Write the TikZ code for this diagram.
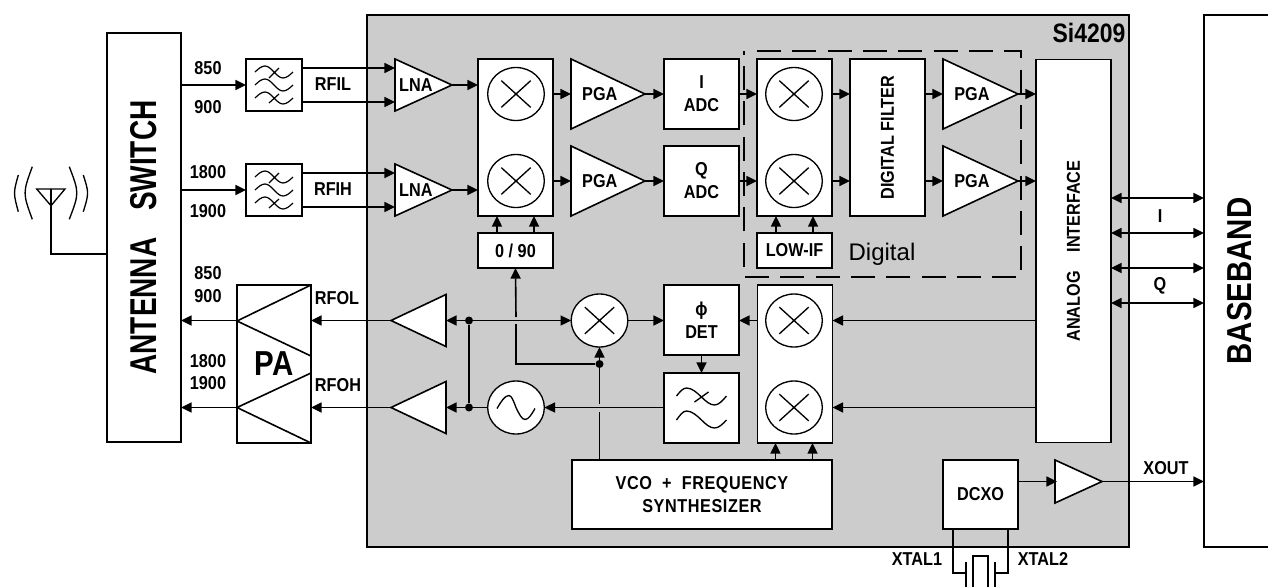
\documentclass[tikz,border=0pt]{standalone}
\usepackage{fontspec}
\setmainfont{Liberation Sans}
\newfontfamily\lblfam[FakeStretch=0.87]{Liberation Sans}
\newfontfamily\chipfam[FakeStretch=0.86]{Liberation Sans}
\newfontfamily\bigfam[FakeStretch=0.75]{Liberation Sans}
\newfontfamily\basefam[FakeStretch=0.85]{Liberation Sans}
\usetikzlibrary{arrows.meta,shapes.geometric}
\definecolor{chipgray}{rgb}{0.8,0.8,0.8}
\tikzset{
	lbl/.style={font=\lblfam\fontsize{14}{17.25}\selectfont\bfseries,align=center,inner sep=0pt,outer sep=0pt},
	blk/.style 2 args={rectangle,draw,fill=white,line width=1.2pt,inner sep=0pt,outer sep=0pt,
		minimum width=#1*0.75pt,minimum height=#2*0.75pt,lbl},
	amp/.style 2 args={isosceles triangle,isosceles triangle stretches,draw,fill=white,line width=1.2pt,
		inner sep=0pt,outer sep=0pt,minimum height=#1*0.75pt,minimum width=#2*0.75pt,lbl},
	mix/.style={ellipse,draw,fill=white,line width=1pt,inner sep=0pt,outer sep=0pt,minimum width=42.5pt,minimum height=39.75pt,
		path picture={\draw[line width=1pt] (path picture bounding box.center) +(-11pt,-10pt) -- +(11pt,10pt) +(-11pt,10pt) -- +(11pt,-10pt);}},
	osc/.style={mix,path picture={\draw[shift={(path picture bounding box.center)},x=.75pt,y=-.75pt,line width=1pt]
		(-19,1) sin (-7,-12) cos (0,0) sin (9,12) cos (19,1);}},
	filsmall/.style={blk={56}{52},path picture={\draw[shift={(path picture bounding box.center)},x=.75pt,y=-.75pt,line width=.9pt]
		(-19,-13) sin (-9,-19) cos (0,-13) sin (9,-7) cos (19,-13)
		(-19,0) sin (-9,-6) cos (0,0) sin (9,6) cos (19,0)
		(-19,13) sin (-9,7) cos (0,13) sin (9,19) cos (19,13)
		(5,-17) -- (-5,-7) (5,9) -- (-5,18);}},
	filbig/.style={blk={75}{70},path picture={\draw[shift={(path picture bounding box.center)},x=.75pt,y=-.75pt,line width=1pt]
		(-25,-12) sin (-15,-20) cos (0,-11) sin (13,-3) cos (25,-12)
		(-25,12) sin (-15,3) cos (0,12) sin (13,20) cos (25,12)
		(7,-16) -- (-7,-6);}},
	dot/.style={circle,fill=black,inner sep=0pt,minimum size=6pt},
	arr/.style={line width=1.2pt,-{Triangle[length=8pt,width=7.5pt]}},
	darr/.style={line width=1.2pt,{Triangle[length=8pt,width=7.5pt]}-{Triangle[length=8pt,width=7.5pt]}},
	wire/.style={line width=1.2pt}
}
\begin{document}
\begin{tikzpicture}[x=0.75pt,y=0.75pt,yscale=-1,xscale=1]
	\useasboundingbox (0,0) rectangle (1268,586);
	% blocks outside the chip
	\node[blk={762}{532},fill=chipgray] (chip) at (748,281) {};
	\node[blk={74}{409}] (antsw) at (144,237.5) {\rotatebox{90}{\bigfam\fontsize{28}{28}\selectfont\bfseries ANTENNA\hspace{20pt}SWITCH}};
	\node[blk={150}{532}] (base) at (1279,281) {};
	\node[lbl,font=\basefam\fontsize{26}{26}\selectfont\bfseries] (basetxt) at (1240,281) {\rotatebox{90}{BASEBAND}};
	\node[filsmall] (rfil) at (274,85) {};
	\node[filsmall] (rfih) at (274,190) {};
	\node[blk={74}{158}] (pa) at (274,364) {};
	% receive path
	\node[amp={57}{52},anchor=lower side] (lnal) at (395,85) {\hspace*{1.5pt}LNA};
	\node[amp={57}{52},anchor=lower side] (lnah) at (395,190) {\hspace*{1.5pt}LNA};
	\node[blk={75}{157}] (cola) at (515.5,137.5) {};
	\node[mix] (mixa) at (516,94) {};
	\node[mix] (mixb) at (516,181) {};
	\node[blk={75}{35}] (phase) at (515.5,250.5) {0 / 90};
	\node[amp={74}{70},anchor=lower side] (pgaa) at (571,94) {\hspace*{4pt}PGA};
	\node[amp={74}{70},anchor=lower side] (pgab) at (571,181) {\hspace*{4pt}PGA};
	\node[blk={75}{70}] (adci) at (701.5,94) {I\\ADC};
	\node[blk={75}{70}] (adcq) at (701.5,181) {Q\\ADC};
	\node[blk={75}{157}] (colb) at (794.5,137.5) {};
	\node[mix] (mixc) at (794,94) {};
	\node[mix] (mixd) at (794,181) {};
	\node[blk={75}{35}] (lowif) at (794.5,250.5) {LOW-IF};
	\node[blk={75}{157}] (dfil) at (887.5,137.5) {\rotatebox{90}{DIGITAL FILTER}};
	\node[amp={75}{70},anchor=lower side] (pgac) at (943,94) {\hspace*{4pt}PGA};
	\node[amp={75}{70},anchor=lower side] (pgad) at (943,181) {\hspace*{4pt}PGA};
	\node[blk={75}{383}] (iface) at (1073.5,251) {\rotatebox{90}{ANALOG\hspace{14pt}INTERFACE}};
	% transmit path
	\node[amp={55}{52},anchor=lower side,shape border rotate=180] (bufl) at (446,320.5) {};
	\node[amp={55}{52},anchor=lower side,shape border rotate=180] (bufh) at (446,407.5) {};
	\node[dot] (jnl) at (469,320.5) {};
	\node[dot] (jnh) at (469,407.5) {};
	\node[mix] (mixl) at (599.5,320.5) {};
	\node[osc] (vosc) at (516,407.5) {};
	\node[blk={75}{70}] (det) at (701.5,320) {ϕ\\DET};
	\node[filbig] (lpf) at (701.5,408) {};
	\node[blk={75}{158}] (colc) at (795,364) {};
	\node[mix] (mixe) at (794,320.5) {};
	\node[mix] (mixf) at (794,407.5) {};
	\node[blk={260}{69},font=\lblfam\fontsize{14}{17.25}\selectfont\bfseries\addfontfeature{LetterSpace=3}] (vco) at (702,494.5) {VCO\ \ +\ \ FREQUENCY\\SYNTHESIZER};
	\node[dot] (tap) at (599.5,364) {};
	\node[blk={75}{69}] (dcxo) at (980.5,494.5) {DCXO};
	\node[amp={47}{43},anchor=lower side] (bufx) at (1055,481.5) {};
	\node[blk={15}{38}] (xtal) at (980.5,575) {};
	% antenna
	\coordinate (ant) at (51,189);
	\draw[line width=1pt] (36.7,189) -- (65,189) -- (51,205.7) -- cycle;
	\draw[wire] (ant) -- (51,254) -- (antsw.west |- 51,254);
	\draw[line width=1pt] (32.3,166.7) .. controls (22.7,193) .. (32.3,219.3);
	\draw[line width=1pt] (18.3,175) .. controls (13.3,193) .. (18.3,211.7);
	\draw[line width=1pt] (69.3,166.7) .. controls (79.3,193) .. (69.3,219.3);
	\draw[line width=1pt] (83.3,175) .. controls (89,193) .. (83.3,211.7);
	% pa triangles
	\draw[wire] (237,321) -- (311,285) (237,321) -- (311,356);
	\draw[wire] (237,407.5) -- (311,373) (237,407.5) -- (311,443);
	% rx connectors
	\draw[arr] (antsw.east |- rfil) -- (rfil);
	\draw[arr] (antsw.east |- rfih) -- (rfih);
	\draw[arr] ([yshift=12.75pt]rfil.east) -- ([yshift=12.75pt]rfil.east -| lnal.lower side);
	\draw[arr] ([yshift=-12.75pt]rfil.east) -- ([yshift=-12.75pt]rfil.east -| lnal.lower side);
	\draw[arr] ([yshift=12.75pt]rfih.east) -- ([yshift=12.75pt]rfih.east -| lnah.lower side);
	\draw[arr] ([yshift=-12.75pt]rfih.east) -- ([yshift=-12.75pt]rfih.east -| lnah.lower side);
	\draw[arr] (lnal.apex) -- (lnal.apex -| cola.west);
	\draw[arr] (lnah.apex) -- (lnah.apex -| cola.west);
	\draw[arr] (cola.east |- pgaa.apex) -- (pgaa.lower side);
	\draw[arr] (cola.east |- pgab.apex) -- (pgab.lower side);
	\draw[arr] (pgaa.apex) -- (adci.west);
	\draw[arr] (pgab.apex) -- (adcq.west);
	\draw[arr] (adci.east) -- (adci.east -| colb.west);
	\draw[arr] (adcq.east) -- (adcq.east -| colb.west);
	\draw[arr] (colb.east |- mixc) -- (dfil.west |- mixc);
	\draw[arr] (colb.east |- mixd) -- (dfil.west |- mixd);
	\draw[arr] (dfil.east |- pgac.apex) -- (pgac.lower side);
	\draw[arr] (dfil.east |- pgad.apex) -- (pgad.lower side);
	\draw[arr] (pgac.apex) -- (pgac.apex -| iface.west);
	\draw[arr] (pgad.apex) -- (pgad.apex -| iface.west);
	\draw[arr] ([xshift=-13.9pt]phase.north) -- ([xshift=-13.9pt]phase.north |- cola.south);
	\draw[arr] ([xshift=13.9pt]phase.north) -- ([xshift=13.9pt]phase.north |- cola.south);
	\draw[arr] ([xshift=-13.9pt]lowif.north) -- ([xshift=-13.9pt]lowif.north |- colb.south);
	\draw[arr] ([xshift=13.9pt]lowif.north) -- ([xshift=13.9pt]lowif.north |- colb.south);
	% tx connectors
	\draw[arr] (pa.west |- bufl.apex) -- (antsw.east |- bufl.apex);
	\draw[arr] (pa.west |- bufh.apex) -- (antsw.east |- bufh.apex);
	\draw[arr] (bufl.apex) -- (pa.east |- bufl.apex);
	\draw[arr] (bufh.apex) -- (pa.east |- bufh.apex);
	\draw[arr] (jnl) -- (bufl.lower side);
	\draw[arr] (jnh) -- (bufh.lower side);
	\draw[wire] (jnl) -- (jnh);
	\draw[wire] (vosc) -- (jnh);
	\draw[arr] (jnl) -- (mixl.west);
	\draw[arr] (mixl.east) -- (det.west |- mixl);
	\draw[arr] (colc.west |- mixe) -- (det.east |- mixe);
	\draw[arr] (det.south) -- (lpf.north);
	\draw[arr] (lpf.west |- vosc) -- (vosc.east);
	\draw[arr] (iface.west |- mixe) -- (colc.east |- mixe);
	\draw[arr] (iface.west |- mixf) -- (colc.east |- mixf);
	\draw[arr] ([xshift=-13.9pt]vco.north -| mixf) -- ([xshift=-13.9pt]colc.south -| mixf);
	\draw[arr] ([xshift=13.9pt]vco.north -| mixf) -- ([xshift=13.9pt]colc.south -| mixf);
	% loop tap, with gaps where it crosses
	\coordinate (gapa) at (516,324);
	\coordinate (gapb) at (516,317);
	\coordinate (gapc) at (599.5,412);
	\coordinate (gapd) at (599.5,404);
	\draw[wire] (tap) -| (gapa);
	\draw[arr] (gapb) -- (phase.south);
	\draw[wire] (vco.north -| tap) -- (gapc);
	\draw[arr] (gapd) -- (mixl.south);
	% baseband and clock
	\coordinate (ioa) at (iface.east |- 0,198);
	\coordinate (iob) at (iface.east |- 0,233);
	\coordinate (ioc) at (iface.east |- 0,268);
	\coordinate (iod) at (iface.east |- 0,303);
	\draw[darr] (ioa) -- (ioa -| base.west);
	\draw[darr] (iob) -- (iob -| base.west);
	\draw[darr] (ioc) -- (ioc -| base.west);
	\draw[darr] (iod) -- (iod -| base.west);
	\draw[arr] (dcxo.east |- bufx.apex) -- ([xshift=1.5pt]bufx.lower side);
	\draw[arr] (bufx.apex) -- (base.west |- bufx.apex);
	% crystal
	\coordinate (xla) at (953,573);
	\coordinate (xlb) at (1008,573);
	\coordinate (plta) at (966,573);
	\coordinate (pltb) at (995,573);
	\draw[wire] (xla |- dcxo.south) -- (xla) -- (plta);
	\draw[wire] (xlb |- dcxo.south) -- (xlb) -- (pltb);
	\draw[wire] (966,562) -- (966,590);
	\draw[wire] (995,562) -- (995,590);
	% digital section
	\draw[line width=1.6pt,dash pattern=on 18pt off 8.5pt] (757,51) -- (1021,51) -- (1021,277) -- (744,277) -- (744,51);
	% labels
	\node[lbl,font=\chipfam\fontsize{20}{20}\selectfont\bfseries] (chipname) at (1089,32.5) {Si4209};
	\node[lbl,font=\fontsize{18}{18}\selectfont] (digtxt) at (882,254) {Digital};
	\node[lbl,font=\basefam\fontsize{26}{26}\selectfont\bfseries] (patxt) at (274,364) {PA};
	\node[lbl] (ta) at (208,68) {850};
	\node[lbl] (tb) at (208,107) {900};
	\node[lbl] (tc) at (208,172) {1800};
	\node[lbl] (td) at (208,211) {1900};
	\node[lbl] (te) at (208,273) {850};
	\node[lbl] (tf) at (208,296) {900};
	\node[lbl] (tg) at (208,361) {1800};
	\node[lbl] (th) at (208,383) {1900};
	\node[lbl] (rfiltxt) at (333,84) {RFIL};
	\node[lbl] (rfihtxt) at (333,189) {RFIH};
	\node[lbl] (rfoltxt) at (337,298) {RFOL};
	\node[lbl] (rfohtxt) at (338,385) {RFOH};
	\node[lbl] (itxt) at (1160,216) {I};
	\node[lbl] (qtxt) at (1160,286) {Q};
	\node[lbl] (xouttxt) at (1166,468) {XOUT};
	\node[lbl] (xtaltxta) at (917,559) {XTAL1};
	\node[lbl] (xtaltxtb) at (1043,559) {XTAL2};
\end{tikzpicture}
\end{document}
